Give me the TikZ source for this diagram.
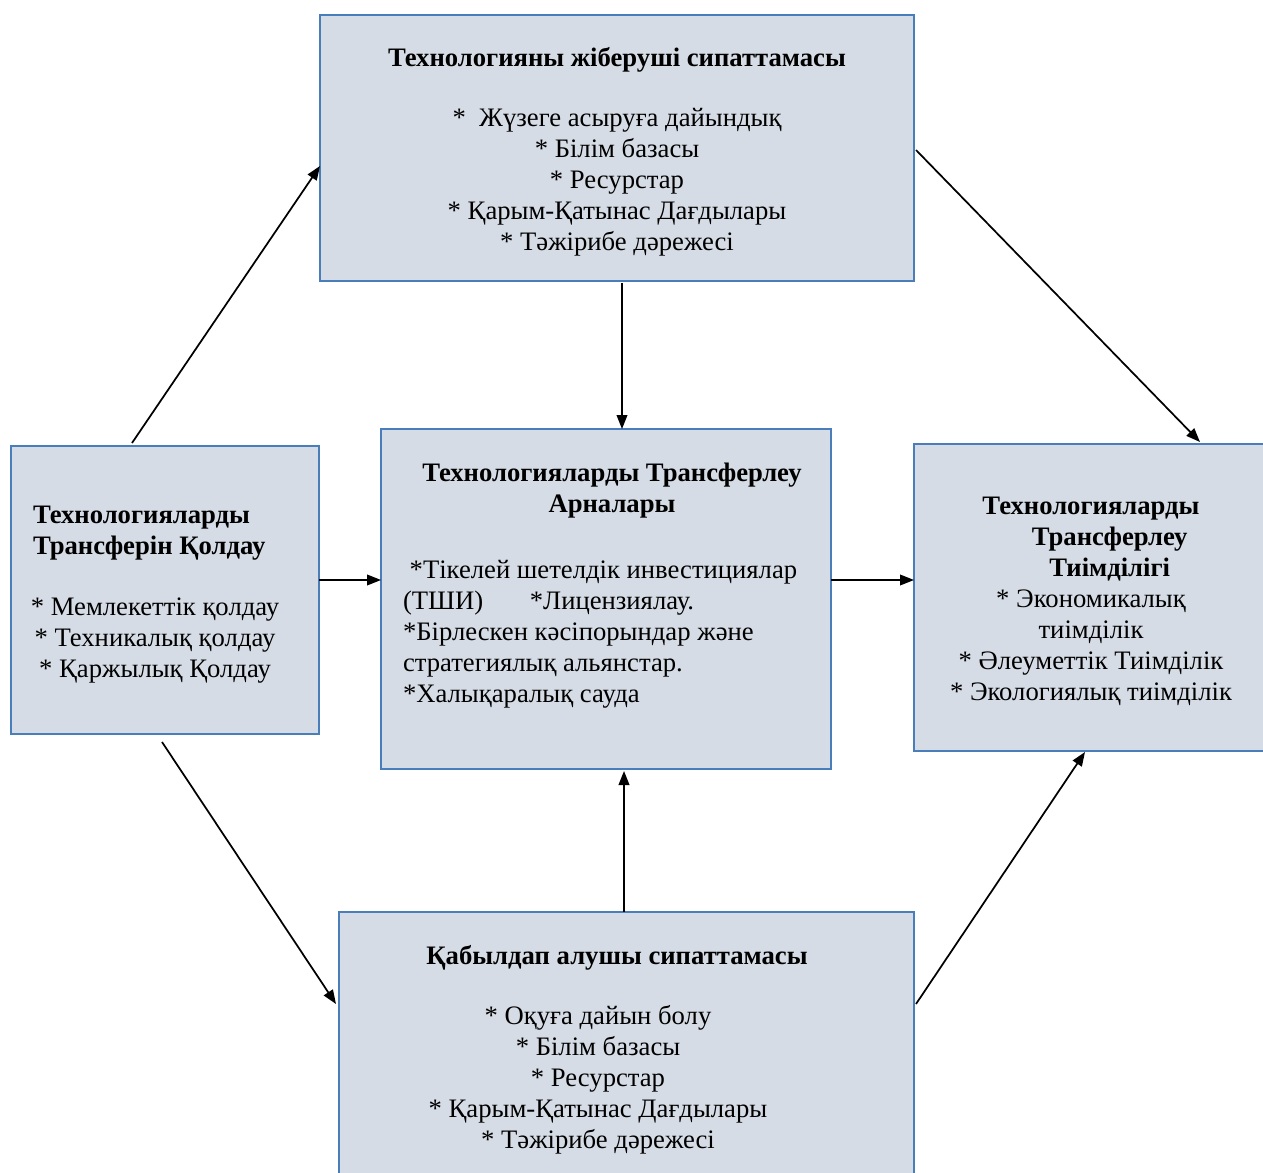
\documentclass[tikz,border=0pt]{standalone}
\usepackage{fontspec}
\setmainfont{Liberation Serif}
\usetikzlibrary{arrows.meta,calc}

\definecolor{boxfill}{HTML}{D6DCE5}
\definecolor{boxline}{HTML}{4A7EBB}

\tikzset{
  box/.style={draw=boxline, line width=1.7pt, fill=boxfill, rectangle,
    inner sep=0pt, outer sep=0pt},
  txt/.style={inner sep=0pt, outer sep=0pt,
    font=\fontsize{20}{23.25}\selectfont},
  ttl/.style={txt, font=\fontsize{20}{23.25}\selectfont\bfseries},
  link/.style={line width=1.3pt, -{Triangle[length=10.5pt,width=8pt]}}
}

\begin{document}
\begin{tikzpicture}[x=0.75pt, y=-0.75pt]
\useasboundingbox (0,0) rectangle (1263,1173);
\clip (0,0) rectangle (1263,1173);

% boxes
\node[box, minimum width=594*0.75pt, minimum height=266*0.75pt] (top) at (617,148) {};
\node[box, minimum width=308*0.75pt, minimum height=288*0.75pt] (left) at (165,590) {};
\node[box, minimum width=450*0.75pt, minimum height=340*0.75pt] (mid) at (606,599) {};
\node[box, minimum width=360*0.75pt, minimum height=307*0.75pt] (right) at (1094,597.5) {};
\node[box, minimum width=575*0.75pt, minimum height=280*0.75pt] (bot) at (626.5,1052) {};

% sender (multi-line nodes sit on the baseline of their last line)
\node[ttl, anchor=base] (toptitle) at (617,67) {Технологияны жіберуші сипаттамасы};
\node[txt, anchor=base, align=center] (toplist) at (617,251)
  {*\ \ Жүзеге асыруға дайындық\\* Білім базасы\\* Ресурстар\\
   * Қарым-Қатынас Дағдылары\\* Тәжірибе дәрежесі};

% support
\node[ttl, anchor=base west, align=left] (lefttitle) at (33,554)
  {Технологияларды\\Трансферін Қолдау};
\node[txt, anchor=base, align=center] (leftlist) at (155,677)
  {* Мемлекеттік қолдау\\* Техникалық қолдау\\* Қаржылық Қолдау};

% channels
\node[ttl, anchor=base, align=center] (midtitle) at (612,512)
  {Технологияларды Трансферлеу\\Арналары};
\node[txt, anchor=base west, align=left] (midlist) at (403,702)
  {\hspace*{5pt}*Тікелей шетелдік инвестициялар\\
   (ТШИ)\hspace*{35pt}*Лицензиялау.\\
   *Бірлескен кәсіпорындар және\\
   стратегиялық альянстар.\\
   *Халықаралық сауда};

% effectiveness
\node[txt, anchor=base, align=center] (rightlist) at (1091,700)
  {\bfseries Технологияларды\\
   \hspace*{28pt}\bfseries Трансферлеу\\
   \hspace*{28pt}\bfseries Тиімділігі\\
   * Экономикалық\\тиімділік\\
   * Әлеуметтік Тиімділік\\* Экологиялық тиімділік};

% recipient
\node[ttl, anchor=base] (bottitle) at (617,964) {Қабылдап алушы сипаттамасы};
\node[txt, anchor=base, align=center] (botlist) at (598,1148)
  {* Оқуға дайын болу\\* Білім базасы\\* Ресурстар\\
   * Қарым-Қатынас Дағдылары\\* Тәжірибе дәрежесі};

% connectors
\draw[link] ($(left.north west)+(121,-3)$) -- ($(top.north west)+(0,151)$);
\draw[link] ($(top.south west)+(302,2)$) -- ($(mid.north west)+(241,0)$);
\draw[link] ($(top.north east)+(2,135)$) -- ($(right.north west)+(286,-2)$);
\draw[link] ($(left.north east)+(0,134)$) -- ($(mid.north west)+(0,151)$);
\draw[link] ($(mid.north east)+(0,151)$) -- ($(right.north west)+(0,136)$);
\draw[link] ($(bot.north west)+(285,0)$) -- ($(mid.south west)+(243,2)$);
\draw[link] ($(left.south west)+(151,8)$) -- ($(bot.north west)+(-3,92)$);
\draw[link] ($(bot.north east)+(2,92)$) -- ($(right.south west)+(171,1)$);
\end{tikzpicture}
\end{document}
